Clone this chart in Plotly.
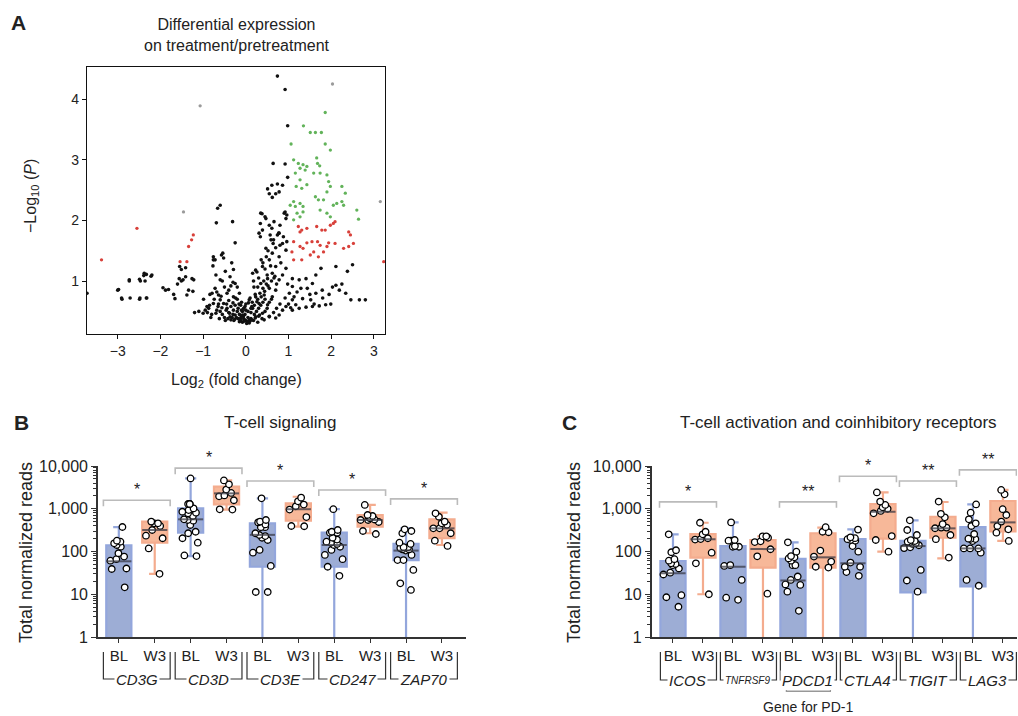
import math
import plotly.graph_objects as go

W, H = 1018, 716
FONT = "Liberation Sans, Arial, Helvetica, sans-serif"

# ---------------- Panel A: volcano data ----------------
black_x = [-3.72,-3.0,-2.98,-2.90,-2.91,-2.73,-2.73,-2.71,-2.49,-2.48,-2.33,-2.32,-2.49,-2.47,-2.39,-2.38,-2.36,-2.33,-2.22,-2.20,
           -1.94,-1.88,-1.81,-1.69,-1.66,-1.60,-1.56,-1.55,-1.51,-1.51,-1.47,-1.41,-1.41,-1.38,-1.34,-1.26,-1.24,-1.22,
           -0.66,-0.60,-0.69,-0.31,-0.25,-0.76,-0.57,-0.72,-0.52,-0.77,-0.33,-0.48,-0.29,-0.37,-0.60,-0.25,-0.72,-0.79,-0.64,-0.44,
           -0.29,-0.60,-0.52,-0.76,-0.91,-0.99,-0.87,-0.68,-0.44,-0.29,-0.25,-0.37,-0.45,-0.40,-0.35,-0.30,-0.20,-0.15,-0.10,-0.05,
           -0.22,-0.18,-0.12,-0.08,0.00,0.03,-0.03,0.05,-0.60,-0.70,-0.80,-0.55,-0.50,-0.42,-0.35,-0.28,-0.90,-1.00,-1.10,-0.95,
           -0.85,-0.65,-0.58,-0.68,-0.40,-0.35,-0.50,-0.55,-0.70,-0.54,-0.76,-0.20,-0.15,-0.10,-0.05,-0.25,-0.12,-0.08,0.02,0.08,
           -0.18,-0.30,-0.40,-0.15,0.10,0.12,-0.02,-0.06,-1.20,-0.82,-0.62,-0.48,
           0.74,0.92,0.98,0.64,0.92,0.98,0.51,0.61,0.74,0.86,0.55,0.70,0.78,0.62,0.38,0.45,0.34,0.61,0.80,0.77,0.57,0.88,0.96,0.34,
           0.65,0.80,0.96,0.92,0.35,0.47,0.39,0.31,0.55,0.66,0.90,0.94,0.74,0.78,0.59,0.86,0.94,0.47,0.62,0.78,0.55,0.39,0.23,0.70,
           0.94,0.62,0.16,0.51,0.78,0.35,0.19,0.55,0.70,0.43,0.23,0.62,0.08,0.31,0.51,0.16,0.00,0.39,-0.08,0.23,0.08,-0.12,
           0.25,0.30,0.35,0.40,0.45,0.20,0.28,0.33,0.40,0.48,0.28,0.15,0.12,0.20,0.30,0.45,0.50,0.55,0.60,0.42,0.50,0.30,0.45,0.58,
           0.66,0.72,0.36,0.48,0.70,0.82,0.86,0.28,0.18,0.38,0.55,0.65,0.72,0.80,0.12,0.05,
           1.09,1.25,1.09,1.29,1.41,1.64,1.76,2.11,2.38,2.50,1.56,1.44,1.64,1.79,2.03,2.19,2.11,2.34,2.46,2.66,2.80,1.13,1.33,1.52,
           1.17,1.09,1.25,1.41,1.56,1.72,1.87,1.99,1.09,0.94,0.86,0.78,0.70,0.55,0.43,1.02,0.98,1.20,1.00,1.05,0.92,1.60,1.80,1.95,
           2.25,1.50,
           -0.32,-0.26,-0.14,-0.04,0.06,0.14,0.22,0.32,-0.38,-0.46,-0.56,-0.64,-0.74,-0.84,0.26,0.36,0.44,0.52,0.60,0.68,
           0.14,0.22,0.06,-0.02,-0.10,-0.16,-0.24,0.18,0.26,0.40,0.52,0.64,0.10,0.00,-0.20,-0.30]
black_y = [0.80,0.85,0.86,0.70,0.72,1.00,1.02,0.72,0.70,0.72,0.72,0.72,1.03,1.00,1.09,1.13,1.00,1.11,1.08,1.10,
           0.89,0.85,0.86,0.78,0.71,0.95,1.04,1.24,1.19,1.00,1.02,1.22,1.07,0.77,0.85,1.04,0.83,1.02,
           2.20,2.25,1.96,1.98,1.63,1.40,1.43,1.35,1.38,1.25,1.30,1.16,1.19,1.07,1.02,0.96,0.88,0.80,0.77,0.80,
           0.74,0.69,0.63,0.63,0.58,0.70,0.55,0.52,0.55,0.52,0.44,0.41,0.62,0.68,0.58,0.64,0.50,0.45,0.42,0.38,
           0.40,0.55,0.60,0.50,0.35,0.33,0.36,0.40,0.50,0.47,0.45,0.45,0.40,0.38,0.36,0.35,0.48,0.47,0.50,0.52,
           0.60,0.58,0.75,0.82,0.85,0.92,0.90,1.00,1.10,1.46,1.35,0.70,0.80,0.65,0.55,0.60,0.35,0.32,0.30,0.31,
           0.38,0.45,0.48,0.33,0.34,0.38,0.45,0.42,0.48,0.40,0.38,0.35,
           4.38,4.16,3.56,2.94,2.93,2.71,2.52,2.58,2.60,2.58,2.44,2.44,2.47,2.38,2.11,2.06,1.95,1.87,1.92,1.79,1.76,1.73,1.65,1.73,
           1.68,1.59,2.09,2.14,2.12,2.03,1.84,1.79,1.92,1.98,2.12,2.03,1.76,1.79,1.68,1.62,1.51,1.54,1.46,1.40,1.35,1.24,1.18,1.24,
           1.21,1.13,1.13,1.04,1.02,0.96,0.90,0.88,0.85,0.77,0.74,0.74,0.69,0.63,0.61,0.55,0.52,0.47,0.44,0.41,0.36,0.39,
           0.50,0.55,0.60,0.65,0.70,0.60,0.70,0.80,0.88,0.95,0.90,0.65,0.48,0.45,0.42,0.50,0.55,0.65,0.70,1.00,1.10,1.05,1.20,1.25,
           1.05,0.95,1.35,1.40,1.55,1.30,1.10,0.32,0.35,0.38,0.42,0.48,0.55,0.62,0.55,0.50,
           1.04,1.02,0.91,0.88,1.04,1.10,1.21,1.24,1.16,1.27,0.96,0.88,0.80,0.85,0.90,0.85,0.93,0.80,0.69,0.69,0.69,0.74,0.71,0.69,
           0.61,0.52,0.55,0.57,0.58,0.59,0.61,0.62,0.69,0.58,0.52,0.44,0.39,0.41,0.36,0.80,0.95,0.82,0.62,0.56,0.72,0.62,0.72,0.78,
           0.95,0.78,
           0.40,0.37,0.36,0.34,0.33,0.36,0.39,0.44,0.47,0.52,0.56,0.62,0.70,0.78,0.66,0.74,0.83,0.92,1.00,1.08,
           0.58,0.78,0.64,0.58,0.52,0.62,0.72,1.00,1.15,1.30,1.50,1.62,0.72,0.62,0.90,0.98]
green_x = [1.86,1.35,1.51,1.63,1.77,1.06,1.86,1.98,1.12,1.23,1.34,1.43,1.39,1.27,1.16,1.66,1.68,1.73,1.59,1.90,1.74,
           1.27,1.18,1.31,1.43,1.94,1.98,2.25,2.33,1.90,1.63,1.70,1.82,2.05,2.13,2.25,2.29,1.12,1.27,1.34,1.04,1.16,1.20,1.34,
           1.74,1.90,1.98,2.60,2.64,1.12,1.27]
green_y = [3.78,3.56,3.45,3.45,3.45,3.26,3.26,3.16,3.00,2.94,2.92,2.89,2.83,2.86,2.78,3.03,2.94,2.90,2.78,2.75,2.78,
           2.67,2.56,2.53,2.59,2.64,2.56,2.56,2.45,2.47,2.39,2.34,2.34,2.25,2.28,2.31,2.25,2.31,2.28,2.23,2.25,2.23,2.12,2.14,
           2.17,2.12,2.06,2.17,2.02,2.01,2.06]
red_x = [1.23,1.31,1.27,1.43,1.66,1.78,1.86,1.98,2.05,2.09,1.12,1.27,1.34,1.43,1.55,1.68,1.74,1.59,1.70,1.82,1.90,1.94,
         2.09,2.29,2.41,2.45,2.41,2.52,1.08,1.12,1.31,1.51,3.23,-1.23,-1.27,-1.34,-1.54,-1.38,-2.55,-3.38]
red_y = [1.90,1.84,1.81,1.87,1.90,1.84,1.84,1.92,1.95,1.98,1.65,1.57,1.54,1.63,1.65,1.65,1.59,1.48,1.40,1.48,1.57,1.63,
         1.62,1.54,1.57,1.76,1.81,1.62,1.48,1.35,1.35,1.43,1.32,1.76,1.68,1.57,1.32,1.32,1.87,1.35]
gray_x = [-1.07, -1.46, 3.15, 2.03]
gray_y = [3.89, 2.14, 2.31, 4.25]

# ---------------- Panel B data ----------------
b_genes = ["CD3G", "CD3D", "CD3E", "CD247", "ZAP70"]
b_ticks = ["BL", "W3"] * 5
b_q1 = [0.5, 161, 276, 1260, 44, 525, 44, 380, 63, 204]
b_med = [59, 318, 566, 2290, 245, 975, 142, 546, 105, 348]
b_q3 = [139, 500, 1020, 3300, 457, 1340, 276, 715, 150, 566]
b_lo = [0.5, 30, 78, 955, 0.5, 380, 0.5, 267, 0.5, 142]
b_hi = [370, 500, 5130, 4600, 1750, 1910, 975, 1230, 348, 810]
b_pts = [
    [374, 170, 142, 129, 155, 179, 91, 76, 61, 66, 40, 39, 14.5],
    [457, 397, 500, 457, 318, 204, 235, 118, 30],
    [5130, 1290, 1290, 1290, 1020, 933, 810, 780, 850, 676, 566, 525, 546, 417, 267, 290, 204, 161, 78, 81],
    [4600, 3720, 2810, 2340, 2050, 1950, 1580, 955, 970],
    [1750, 546, 480, 370, 370, 500, 430, 267, 230, 186, 243, 210, 94, 109, 46, 11.3, 11.3],
    [1820, 1490, 1250, 1140, 955, 640, 390, 395],
    [975, 276, 290, 318, 276, 170, 150, 142, 129, 109, 83, 66, 44, 27, 210, 190, 160],
    [1230, 676, 715, 546, 546, 490, 560, 257, 302, 600],
    [331, 302, 267, 161, 150, 126, 120, 112, 105, 112, 126, 83, 63, 63, 37, 18, 12.6],
    [780, 650, 457, 500, 348, 348, 267, 179, 135, 420],
]
b_sig_h = [1585, 8900, 4470, 2750, 1700]
b_sig_lbl = ["*", "*", "*", "*", "*"]

# ---------------- Panel C data ----------------
c_genes = ["ICOS", "TNFRSF9", "PDCD1", "CTLA4", "TIGIT", "LAG3"]
c_ticks = ["BL", "W3"] * 6
c_q1 = [0.5, 72, 0.5, 42, 0.5, 42, 0.5, 199, 11.1, 210, 15.3, 296]
c_med = [31, 193, 44, 114, 21, 73, 53, 850, 134, 348, 118, 480]
c_q3 = [60, 257, 134, 186, 67, 267, 196, 1290, 177, 650, 370, 1520]
c_lo = [0.5, 10, 0.5, 0.5, 0.5, 0.5, 0.5, 99, 0.5, 69, 0.5, 177]
c_hi = [252, 470, 480, 226, 164, 362, 331, 2410, 535, 1440, 1260, 2760]
c_pts = [
    [252, 96, 107, 61, 51, 48, 53, 66, 40, 29, 32, 9.5, 8.5, 5.1],
    [470, 252, 290, 195, 190, 204, 94, 53, 10],
    [480, 186, 179, 179, 129, 129, 134, 46, 48, 21.6, 7.4, 8.3],
    [226, 226, 210, 166, 173, 113, 77, 10.3],
    [164, 99, 69, 78, 73, 48, 48, 61, 26, 17, 16.5, 21.6, 11.5, 4.1],
    [370, 282, 290, 105, 76, 58, 42, 44],
    [325, 215, 194, 179, 186, 205, 99, 134, 44, 44, 55, 27, 33],
    [2410, 1470, 1080, 1230, 780, 890, 230, 186, 99, 1000],
    [535, 318, 243, 170, 175, 185, 165, 140, 125, 120, 37, 21, 11.5, 155, 150],
    [1470, 760, 630, 437, 362, 362, 243, 194, 72, 350],
    [1260, 810, 457, 566, 257, 199, 197, 195, 118, 118, 118, 94, 395, 21.6, 15.8, 175],
    [2760, 2180, 975, 715, 500, 395, 331, 276, 177],
]
c_sig_pairs = [0, 2, 3, 4, 5]
c_sig_h = [1450, 1450, 5750, 4470, 8130]
c_sig_lbl = ["*", "**", "*", "**", "**"]

# ---------------- styles ----------------
BLUE_FILL = "#9DADD5"
BLUE_LINE = "#93A6DC"
ORNG_FILL = "#F7B899"
ORNG_LINE = "#F4AC8E"
MED_COL = "rgba(60,60,70,0.75)"
AX_COL = "#333333"

fig = go.Figure()

# volcano
for xs, ys, col, sz in [(black_x, black_y, "#111111", 3.6), (green_x, green_y, "#62B35A", 3.3),
                        (red_x, red_y, "#D8403A", 3.3), (gray_x, gray_y, "#9A9A9A", 3.3)]:
    fig.add_trace(go.Scatter(x=xs, y=ys, mode="markers", xaxis="x", yaxis="y",
                             marker=dict(color=col, size=sz, line=dict(width=0)),
                             hoverinfo="skip", showlegend=False))


def add_panel(xa, ya, yh, q1, med, q3, lo, hi, pts, width, sig_pairs, sig_h, sig_lbl, span):
    n = len(q1)
    for i in range(n):
        blue = (i % 2 == 0)
        fig.add_trace(go.Box(x=[i], q1=[q1[i]], median=[med[i]], q3=[q3[i]],
                             lowerfence=[lo[i]], upperfence=[hi[i]], width=width,
                             fillcolor=BLUE_FILL if blue else ORNG_FILL,
                             line=dict(color=BLUE_LINE if blue else ORNG_LINE, width=2.2),
                             whiskerwidth=0.45, boxpoints=False, xaxis=xa, yaxis=ya,
                             hoverinfo="skip", showlegend=False))
    mx, my = [], []
    for i in range(n):
        mx += [i - width / 2, i + width / 2, None]
        my += [med[i], med[i], None]
    fig.add_trace(go.Scatter(x=mx, y=my, mode="lines", line=dict(color=MED_COL, width=2),
                             xaxis=xa, yaxis=ya, hoverinfo="skip", showlegend=False))
    for i in range(n):
        fig.add_trace(go.Box(x=[i] * len(pts[i]), y=pts[i], width=width, boxpoints="all",
                             jitter=0.9, pointpos=0, fillcolor="rgba(0,0,0,0)",
                             line=dict(color="rgba(0,0,0,0)", width=0), whiskerwidth=0,
                             marker=dict(color="white", size=6.5, line=dict(color="black", width=1.3)),
                             xaxis=xa, yaxis=ya, hoverinfo="skip", showlegend=False))
    # significance brackets on hidden extended axis
    bx, by = [], []
    for k, p in enumerate(sig_pairs):
        l, r = 2 * p - span, 2 * p + 1 + span
        h = sig_h[k]
        drop = h / 10 ** 0.14
        bx += [l, l, r, r, None]
        by += [drop, h, h, drop, None]
        fig.add_annotation(x=2 * p + 0.5, y=math.log10(h), xref=xa, yref=yh, text=sig_lbl[k],
                           showarrow=False, yanchor="bottom",
                           font=dict(family=FONT, size=16, color="#222"))
    fig.add_trace(go.Scatter(x=bx, y=by, mode="lines", line=dict(color="#BBBBBB", width=1.6),
                             xaxis=xa, yaxis=yh, hoverinfo="skip", showlegend=False))


add_panel("x2", "y2", "y4", b_q1, b_med, b_q3, b_lo, b_hi, b_pts, 0.7,
          [0, 1, 2, 3, 4], b_sig_h, b_sig_lbl, 0.43)
add_panel("x3", "y3", "y5", c_q1, c_med, c_q3, c_lo, c_hi, c_pts, 0.84,
          c_sig_pairs, c_sig_h, c_sig_lbl, 0.45)


def py(px):
    return 1 - px / H


def gene_brackets(xa, genes, l_off, r_off, y_top, y_bot, small=()):
    for k, g in enumerate(genes):
        l, r = 2 * k - l_off, 2 * k + 1 + r_off
        fig.add_shape(type="path", xref=xa, yref="paper",
                      path=f"M {l},{y_top} L {l},{y_bot} L {r},{y_bot} L {r},{y_top}",
                      line=dict(color=AX_COL, width=1.2))
        fig.add_annotation(x=2 * k + 0.5, y=y_bot, xref=xa, yref="paper", text=f"<i>{g}</i>",
                           showarrow=False, bgcolor="white", borderpad=1, xanchor="center",
                           yanchor="middle",
                           font=dict(family=FONT, size=10 if g in small else 15, color="#222"))


gene_brackets("x2", b_genes, 0.43, 0.43, py(652), py(679))
gene_brackets("x3", c_genes, 0.42, 0.45, py(652), py(680), small=("TNFRSF9",))
# gene for PD-1 bracket
fig.add_shape(type="path", xref="x3", yref="paper",
              path=f"M 3.78,{py(685)} L 3.78,{py(691)} L 5.25,{py(691)} L 5.25,{py(685)}",
              line=dict(color=AX_COL, width=1.2))
fig.add_annotation(x=4.5, y=py(707), xref="x3", yref="paper", text="Gene for PD-1", showarrow=False,
                   xanchor="center", yanchor="middle",
                   font=dict(family=FONT, size=14, color="#222"))

# ---------------- layout ----------------
log_major = [1, 10, 100, 1000, 10000]
log_major_txt = ["1", "10", "100", "1,000", "10,000"]
log_minor = [m * 10 ** e for e in range(0, 4) for m in range(2, 10)]


def log_axis(anchor):
    return dict(type="log", range=[0, 4], domain=[py(637), py(466)], anchor=anchor, automargin=False,
                tickvals=log_major, ticktext=log_major_txt, ticks="outside", ticklen=5,
                tickwidth=1.3, tickcolor=AX_COL, showline=True, linecolor=AX_COL, linewidth=1.6,
                showgrid=False, zeroline=False,
                tickfont=dict(family=FONT, size=16, color="#222"),
                minor=dict(tickvals=log_minor, ticks="outside", ticklen=3, tickcolor=AX_COL, tickwidth=1,
                           showgrid=False))


def hidden_axis(anchor):
    top = 440
    return dict(type="log", range=[0, 4 * (637 - top) / (637 - 466)], domain=[py(637), py(top)],
                anchor=anchor, visible=False, showgrid=False, automargin=False)


def cat_axis(dom, rng, anchor, labels):
    return dict(domain=dom, range=rng, anchor=anchor, tickvals=list(range(len(labels))), ticktext=labels,
                ticks="outside", ticklen=4, tickcolor=AX_COL, showline=True, linecolor=AX_COL,
                linewidth=1.6, showgrid=False, zeroline=False, automargin=False,
                tickfont=dict(family=FONT, size=15, color="#222"))


fig.update_layout(
    width=W, height=H, margin=dict(l=0, r=0, t=0, b=0, pad=0, autoexpand=False),
    paper_bgcolor="white", plot_bgcolor="rgba(0,0,0,0)", showlegend=False, boxmode="overlay",
    font=dict(family=FONT, color="#222"),
    xaxis=dict(domain=[87 / W, 385 / W], range=[-3.72, 3.26], anchor="y", tickvals=[-3, -2, -1, 0, 1, 2, 3],
               ticktext=["−3", "−2", "−1", "0", "1", "2", "3"], automargin=False,
               ticks="outside", ticklen=4, tickcolor="#111", showline=True, mirror=True, linecolor="#111",
               linewidth=1.3, showgrid=False, zeroline=False, tickfont=dict(family=FONT, size=14, color="#222")),
    yaxis=dict(domain=[py(334), py(67)], range=[0.127, 4.53], anchor="x", tickvals=[1, 2, 3, 4],
               automargin=False,
               ticks="outside", ticklen=4, tickcolor="#111", showline=True, mirror=True, linecolor="#111",
               linewidth=1.3, showgrid=False, zeroline=False, tickfont=dict(family=FONT, size=14, color="#222")),
    xaxis2=cat_axis([98 / W, 466 / W], [-0.58, 9.67], "y2", b_ticks),
    yaxis2=log_axis("x2"),
    yaxis4=hidden_axis("x2"),
    xaxis3=cat_axis([651.7 / W, 1017 / W], [-0.71, 11.47], "y3", c_ticks),
    yaxis3=log_axis("x3"),
    yaxis5=hidden_axis("x3"),
)


def txt(x, y, s, size, bold=False, angle=0):
    fig.add_annotation(x=x / W, y=py(y), xref="paper", yref="paper", text=f"<b>{s}</b>" if bold else s,
                       showarrow=False, textangle=angle, xanchor="center", yanchor="middle",
                       font=dict(family=FONT, size=size, color="#222"))


txt(18, 22, "A", 21, bold=True)
txt(21, 422, "B", 21, bold=True)
txt(569, 422, "C", 21, bold=True)
txt(237, 35, "Differential expression<br>on treatment/pretreatment", 16)
txt(236, 381, "Log<sub>2</sub> (fold change)", 16)
txt(31, 196, "−Log<sub>10</sub> (<i>P</i>)", 16, angle=-90)
txt(280, 422, "T-cell signaling", 17)
txt(838, 422, "T-cell activation and coinhibitory receptors", 17)
txt(26, 553, "Total normalized reads", 18, angle=-90)
txt(574, 553, "Total normalized reads", 18, angle=-90)

fig.write_html("out.html")
